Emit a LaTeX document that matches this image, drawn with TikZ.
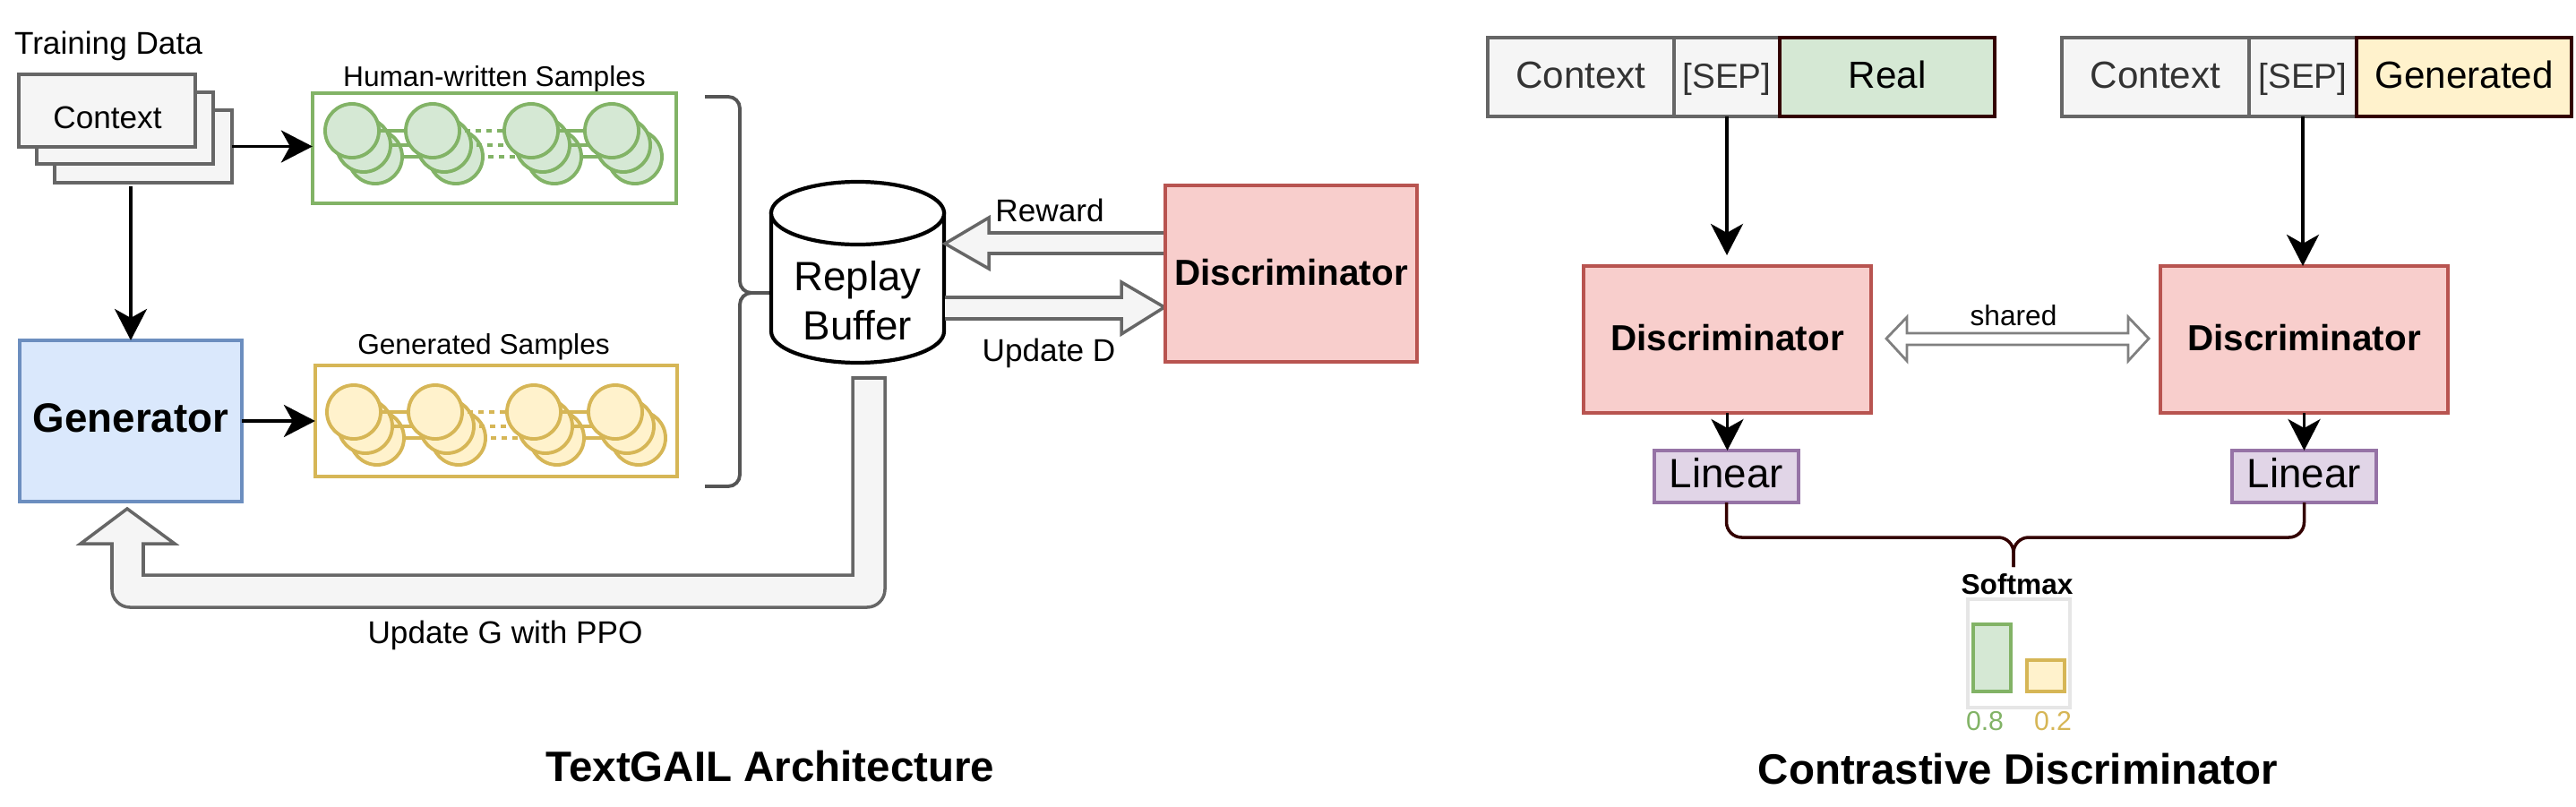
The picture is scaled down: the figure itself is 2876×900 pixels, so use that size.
\documentclass[tikz,border=0pt]{standalone}
\usepackage{fontspec}
\setmainfont{Liberation Sans}
\usetikzlibrary{arrows.meta,calc}
\definecolor{gF}{HTML}{F5F5F5}
\definecolor{gS}{HTML}{666666}
\definecolor{grnF}{HTML}{D5E8D4}
\definecolor{grnS}{HTML}{82B366}
\definecolor{yelF}{HTML}{FFF2CC}
\definecolor{yelS}{HTML}{D6B656}
\definecolor{bluF}{HTML}{DAE8FC}
\definecolor{bluS}{HTML}{6C8EBF}
\definecolor{redF}{HTML}{F8CECC}
\definecolor{redS}{HTML}{B85450}
\definecolor{purF}{HTML}{E1D5E7}
\definecolor{purS}{HTML}{9673A6}
\definecolor{darkS}{HTML}{330000}
\definecolor{brcS}{HTML}{555555}
\definecolor{txtG}{HTML}{333333}
\definecolor{shrS}{HTML}{808080}
\definecolor{lgS}{HTML}{E6E6E6}
\begin{document}
\begin{tikzpicture}[x=0.01cm,y=-0.01cm,line join=miter,
  box/.style={draw,rectangle,inner sep=0pt,outer sep=0pt,line width=1.05pt,text height=0.72em,text depth=0pt},
  arr/.style={line width=1.0pt,-{Stealth[length=0.35cm,width=0.36cm,inset=0.1cm]}},
  harr/.style={fill=gF,draw=gS,line width=1.0pt},
  lbl/.style={anchor=base,inner sep=0pt},
  brc/.style={draw=brcS,line width=1.1pt,rounded corners=0.13cm},
  brcd/.style={draw=darkS,line width=1.0pt,rounded corners=0.17cm},
  circ/.style={line width=1.1pt},
  dots/.style={line width=1.1pt,dash pattern=on 0.06cm off 0.06cm}]
\useasboundingbox (0,0) rectangle (2876,900);

% ---------------- TextGAIL architecture ----------------
\node[lbl,font=\fontsize{10}{12}\selectfont] (train) at (121,60) {Training Data};
\node[box,draw=gS,fill=gF,minimum width=1.98cm,minimum height=0.81cm] (ctx3) at (160,163.5) {};
\node[box,draw=gS,fill=gF,minimum width=1.97cm,minimum height=0.80cm] (ctx2) at (139.5,143) {};
\node[box,draw=gS,fill=gF,minimum width=1.97cm,minimum height=0.81cm] (ctx1) at (119.5,123.5) {};
\node[lbl,font=\fontsize{10}{12}\selectfont] (ctxt) at (120,143) {Context};

% human-written samples
\node[lbl,font=\fontsize{9}{11}\selectfont] (humlbl) at (552,97) {Human-written Samples};
\node[box,draw=grnS,fill=white,minimum width=4.06cm,minimum height=1.23cm] (hum) at (552,165.5) {};
\foreach \dx/\dy in {26/29,13/16,0/0}{
  \draw[grnS,circ] (393+\dx,146+\dy) -- (483+\dx,146+\dy);
  \draw[grnS,dots] (483+\dx,146+\dy) -- (593+\dx,146+\dy);
  \draw[grnS,circ] (593+\dx,146+\dy) -- (683+\dx,146+\dy);
  \foreach \cx in {393,483,593,683}
    \draw[circ,draw=grnS,fill=grnF] (\cx+\dx,146+\dy) circle [radius=0.3cm];
}

% generated samples
\node[lbl,font=\fontsize{9}{11}\selectfont] (gslbl) at (540,395) {Generated Samples};
\node[box,draw=yelS,fill=white,minimum width=4.04cm,minimum height=1.24cm] (gs) at (554,470) {};
\foreach \dx/\dy in {26/29,13/16,0/0}{
  \draw[yelS,circ] (395+\dx,460+\dy) -- (486+\dx,460+\dy);
  \draw[yelS,dots] (486+\dx,460+\dy) -- (596+\dx,460+\dy);
  \draw[yelS,circ] (596+\dx,460+\dy) -- (687+\dx,460+\dy);
  \foreach \cx in {395,486,596,687}
    \draw[circ,draw=yelS,fill=yelF] (\cx+\dx,460+\dy) circle [radius=0.3cm];
}

% generator
\node[box,draw=bluS,fill=bluF,minimum width=2.48cm,minimum height=1.80cm,font=\fontsize{13}{15.6}\selectfont\bfseries] (gen) at (146,470) {Generator};

\draw[arr] (ctx3.east) -- (ctx3.east -| hum.west);
\draw[arr] ($(gen.north |- ctx3.south)+(0,4)$) -- (gen.north);
\draw[arr] (gen.east) -- (gs.west);

% curly bracket to the replay buffer
\coordinate (bt) at (787,108);
\coordinate (bb) at (787,543);
\coordinate (btip) at (861,327);
\draw[brc] (bt) -- (826,108) -- (826,327) -- (btip);
\draw[brc] (bb) -- (826,543) -- (826,327) -- (btip);

% replay buffer cylinder
\draw[line width=1.2pt,fill=white] (861,238) -- (861,370) .. controls (861,389.3) and (904.2,405) .. (957.5,405)
  .. controls (1010.8,405) and (1054,389.3) .. (1054,370) -- (1054,238) -- cycle;
\draw[line width=1.2pt,fill=white] (957.5,238) ellipse [x radius=0.965cm,y radius=0.35cm];
\node[align=center,inner sep=0pt,font=\fontsize{13}{15.6}\selectfont] (buf) at (957.5,336) {Replay\\Buffer};

% reward / update D hollow arrows
\draw[harr] (1300,260) -- (1104,260) -- (1104,243) -- (1055,272) -- (1104,300) -- (1104,283) -- (1300,283);
\draw[harr] (1055,332) -- (1252,332) -- (1252,315) -- (1300,343) -- (1252,373) -- (1252,356) -- (1055,356);
\node[lbl,font=\fontsize{10}{12}\selectfont] (rew) at (1172,247) {Reward};
\node[lbl,font=\fontsize{10}{12}\selectfont] (upd) at (1171,403) {Update D};

% discriminator
\node[box,draw=redS,fill=redF,minimum width=2.81cm,minimum height=1.97cm,font=\fontsize{11.5}{13.8}\selectfont\bfseries] (disc) at (1441.5,305.5) {Discriminator};

% update G with PPO
\draw[harr] (952,422) -- (952,642) -- (160,642) -- (160,607) -- (195,607) -- (142,568) -- (90,607) -- (125,607) -- (125,620)
  [rounded corners=0.2cm] -- (125,678) -- (988,678) -- (988,600) [sharp corners] -- (988,422) -- cycle;
\node[lbl,font=\fontsize{10}{12}\selectfont] (updg) at (564,718) {Update G with PPO};

\node[lbl,font=\fontsize{13.5}{16}\selectfont\bfseries] (t1) at (860,872) {TextGAIL Architecture};

% ---------------- Contrastive discriminator ----------------
\node[box,draw=gS,fill=gF,text=txtG,minimum width=2.08cm,minimum height=0.88cm,font=\fontsize{12}{14.4}\selectfont] (ctxL) at (1765,86) {Context};
\node[box,draw=gS,fill=gF,text=txtG,minimum width=1.18cm,minimum height=0.88cm,font=\fontsize{11}{13.2}\selectfont] (sepL) at (1928,86) {[SEP]};
\node[box,draw=darkS,fill=grnF,minimum width=2.40cm,minimum height=0.88cm,font=\fontsize{12}{14.4}\selectfont] (realL) at (2107,86) {Real};

\node[box,draw=gS,fill=gF,text=txtG,minimum width=2.09cm,minimum height=0.88cm,font=\fontsize{12}{14.4}\selectfont] (ctxR) at (2406.5,86) {Context};
\node[box,draw=gS,fill=gF,text=txtG,minimum width=1.20cm,minimum height=0.88cm,font=\fontsize{11}{13.2}\selectfont] (sepR) at (2571,86) {[SEP]};
\node[box,draw=darkS,fill=yelF,minimum width=2.40cm,minimum height=0.88cm,font=\fontsize{12}{14.4}\selectfont] (genR) at (2751,86) {Generated};

\node[box,draw=redS,fill=redF,minimum width=3.21cm,minimum height=1.64cm,font=\fontsize{11.5}{13.8}\selectfont\bfseries] (discL) at (1928.5,379) {Discriminator};
\node[box,draw=redS,fill=redF,minimum width=3.21cm,minimum height=1.64cm,font=\fontsize{11.5}{13.8}\selectfont\bfseries] (discR) at (2572.5,379) {Discriminator};

\draw[arr,shorten >=0.12cm] (sepL.south) -- (sepL.south |- discL.north);
\draw[arr] (sepR.south) -- (sepR.south |- discR.north);

% shared double arrow
\draw[draw=shrS,fill=white,line width=0.8pt] (2106,378) -- (2129,354) -- (2129,372) -- (2376,372) -- (2376,354) -- (2399,378)
  -- (2376,403) -- (2376,385) -- (2129,385) -- (2129,403) -- cycle;
\node[lbl,font=\fontsize{9}{11}\selectfont] (shr) at (2248,363) {shared};

% linear layers
\node[box,draw=purS,fill=purF,minimum width=1.61cm,minimum height=0.58cm,font=\fontsize{13}{15.6}\selectfont] (linL) at (1927.5,532) {Linear};
\node[box,draw=purS,fill=purF,minimum width=1.61cm,minimum height=0.58cm,font=\fontsize{13}{15.6}\selectfont] (linR) at (2572.5,532) {Linear};
\draw[arr] (discL.south) -- (discL.south |- linL.north);
\draw[arr] (discR.south) -- (discR.south |- linR.north);

% bracket to softmax
\coordinate (smtip) at (2248,600);
\coordinate (smstem) at (2248,633);
\draw[brcd] (linL.south) |- (smtip) -- (smstem);
\draw[brcd] (linR.south) |- (smtip) -- (smstem);

\node[lbl,font=\fontsize{9}{11}\selectfont\bfseries] (smx) at (2252,663) {Softmax};
\node[box,draw=lgS,fill=white,minimum width=1.14cm,minimum height=1.21cm] (prob) at (2254,729.5) {};
\node[box,draw=grnS,fill=grnF,minimum width=0.42cm,minimum height=0.75cm] (barG) at (2224,734.5) {};
\node[box,draw=yelS,fill=yelF,minimum width=0.42cm,minimum height=0.35cm] (barY) at (2284,754.5) {};
\node[lbl,text=grnS,font=\fontsize{8.6}{10}\selectfont] (v8) at (2216,815) {0.8};
\node[lbl,text=yelS,font=\fontsize{8.6}{10}\selectfont] (v2) at (2292,815) {0.2};

\node[lbl,font=\fontsize{13.5}{16}\selectfont\bfseries] (t2) at (2253,875) {Contrastive Discriminator};
\end{tikzpicture}
\end{document}
